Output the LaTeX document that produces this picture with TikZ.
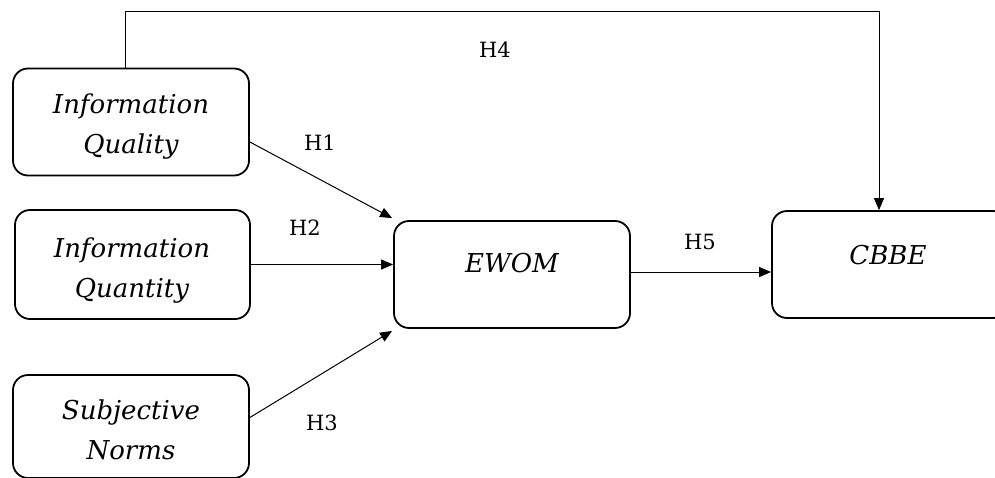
\documentclass[tikz,border=0pt]{standalone}
\usepackage{fontspec}
\setmainfont{DejaVu Serif}
\usetikzlibrary{arrows.meta,calc}
\tikzset{
  box/.style={draw, line width=1.8pt, rounded corners=15pt, inner sep=0pt},
  lbl/.style={font=\itshape\fontsize{26}{40}\selectfont, align=center, inner sep=0pt},
  hyp/.style={font=\fontsize{21}{24}\selectfont, inner sep=0pt},
  link/.style={line width=1pt, -{Triangle[length=12pt,width=10pt]}}
}
\begin{document}
\begin{tikzpicture}[x=1pt,y=-1pt]
\clip (0,0) rectangle (995,477);
\fill[white] (0,0) rectangle (995,477);
% construct boxes
\node[box, minimum width=236pt, minimum height=107pt] (iq) at (131,122) {};
\node[box, minimum width=235pt, minimum height=109pt] (iqn) at (132.5,264.5) {};
\node[box, minimum width=236pt, minimum height=103pt] (sn) at (131,426.5) {};
\node[box, minimum width=236pt, minimum height=107pt] (ewom) at (512,274.5) {};
\node[box, minimum width=236pt, minimum height=107pt] (cbbe) at (890,264.5) {};
% box texts
\node[lbl] (iqt) at (131,127) {Information\\Quality};
\node[lbl] (iqnt) at (132,271) {Information\\Quantity};
\node[lbl] (snt) at (131,430) {Subjective\\Norms};
\node[lbl] (ewomt) at (512,263) {EWOM};
\node[lbl] (cbbet) at (888,255) {CBBE};
% paths
\coordinate (h4a) at ($(iq.north)+(-6,0)$);
\coordinate (h4b) at ($(cbbe.north)+(-11,0)$);
\draw[link] (h4a) -- ++(0,-56) -| (h4b);
\draw[link] ($(iq.east)+(0,20)$) -- ($(ewom.north west)+(-1,-2)$);
\draw[link] (iqn.east) -- (ewom.west |- iqn.east);
\draw[link] ($(sn.east)+(0,-9)$) -- ($(ewom.south west)+(-1,2)$);
\draw[link] ($(ewom.east)+(0,-2.5)$) -- (cbbe.west |- {$(ewom.east)+(0,-2.5)$});
% hypothesis labels
\node[hyp] (h1) at (320,143) {H1};
\node[hyp] (h2) at (305,228) {H2};
\node[hyp] (h3) at (322,423) {H3};
\node[hyp] (h4) at (495,50) {H4};
\node[hyp] (h5) at (700,242) {H5};
\end{tikzpicture}
\end{document}
